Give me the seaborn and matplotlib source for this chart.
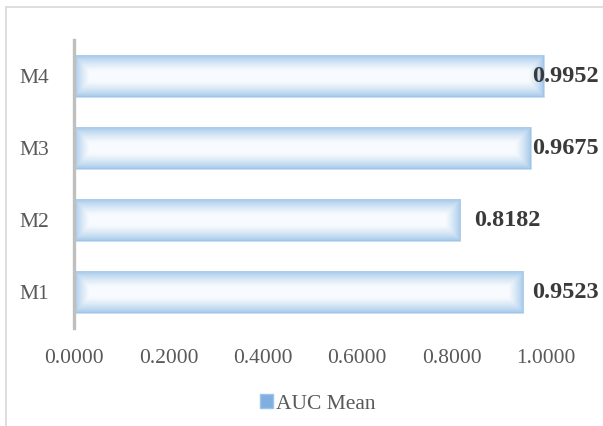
import numpy as np
import pandas as pd
import matplotlib
matplotlib.use("Agg")
import matplotlib.pyplot as plt
import seaborn as sns
from matplotlib.lines import Line2D

# Dados do gráfico
modelos = ["M1", "M2", "M3", "M4"]
auc_mean = [0.9523, 0.8182, 0.9675, 0.9952]
ticks_x = [0.0, 0.2, 0.4, 0.6, 0.8, 1.0]

df = pd.DataFrame({"Modelo": modelos, "AUC Mean": auc_mean})

sns.set_theme(style="white")
plt.rcParams['font.family'] = ['Liberation Serif', 'DejaVu Serif']

fig = plt.figure(figsize=(6.03, 4.26), dpi=100)
ax = fig.add_axes([74 / 603, 1 - 328 / 426, (546 - 74) / 603, (328 - 40) / 426])

# ordem de cima para baixo: M4 .. M1
ordem = modelos[::-1]
sns.barplot(data=df, x="AUC Mean", y="Modelo", order=ordem, orient="h",
            color="white", width=0.57, ax=ax)

# preenchimento em gradiente (borda azul -> centro branco)
azul = np.array([0.62, 0.77, 0.91])
centro = np.array([0.975, 0.985, 0.995])
for patch in ax.patches:
    x0, y0 = patch.get_x(), patch.get_y()
    w, h = patch.get_width(), patch.get_height()
    ny, nx = 60, 600
    yy = np.linspace(0, 1, ny)[:, None]
    xx = np.linspace(0, 1, nx)[None, :]
    dy = np.minimum(yy, 1 - yy) * 41  # distância em px
    dx = np.minimum(xx, 1 - xx) * 470 * w
    d = np.minimum(dy, dx)
    t = np.clip(d / 15, 0, 1) ** 0.7
    img = np.empty((ny, nx, 3))
    for c in range(3):
        img[:, :, c] = azul[c] + (centro[c] - azul[c]) * t
    im = ax.imshow(img, extent=[x0, x0 + w, y0 + h, y0], aspect="auto",
                   interpolation="bilinear", zorder=patch.get_zorder())
    im.set_clip_path(patch)
    patch.set_facecolor("none")
    patch.set_edgecolor((0.70, 0.82, 0.93))
    patch.set_linewidth(0.5)
    patch.set_zorder(3)

ax.set_xlim(0, 1.0)
ax.set_ylim(3.5, -0.5)

# rótulos de valor (empurrados para dentro da área do gráfico, como no Excel)
for i, m in enumerate(ordem):
    v = df.loc[df["Modelo"] == m, "AUC Mean"].values[0]
    ax.text(min(v + 0.0297, 0.970), i, f"{v:.4f}", va="center", ha="left",
            fontsize=17.5, fontweight="bold", color="#3A3A3A", zorder=5)

ax.set_xticks(ticks_x)
ax.set_xticklabels([f"{t:.4f}" for t in ticks_x], fontsize=15.5, color="#595959")
ax.tick_params(axis="y", labelsize=15.5, labelcolor="#595959", length=0, pad=18)
ax.tick_params(axis="x", length=0, pad=15)
ax.set_xlabel("")
ax.set_ylabel("")
if ax.get_legend() is not None:
    ax.get_legend().remove()

for s in ["top", "right", "bottom"]:
    ax.spines[s].set_visible(False)
ax.spines["left"].set_color("#BFBFBF")
ax.spines["left"].set_linewidth(2.4)
ax.spines["left"].set_zorder(6)

# legenda
handle = plt.Rectangle((0, 0), 1, 1, facecolor="#7FAEE0", edgecolor="#9DC3E6")
fig.legend([handle], ["AUC Mean"], loc="center", bbox_to_anchor=(318 / 603, 1 - 404 / 426),
           frameon=False, fontsize=15.5, handlelength=0.6, handleheight=0.6,
           handletextpad=0.15, labelcolor="#595959")

# moldura parcial do gráfico
fig.add_artist(Line2D([6 / 603, 6 / 603], [0, 1 - 6.5 / 426], color="#D9D9D9", lw=1.2,
                      transform=fig.transFigure))
fig.add_artist(Line2D([6 / 603, 1], [1 - 6.5 / 426, 1 - 6.5 / 426], color="#D9D9D9", lw=1.2,
                      transform=fig.transFigure))

fig.savefig("out.png", dpi=100)
plt.close(fig)
